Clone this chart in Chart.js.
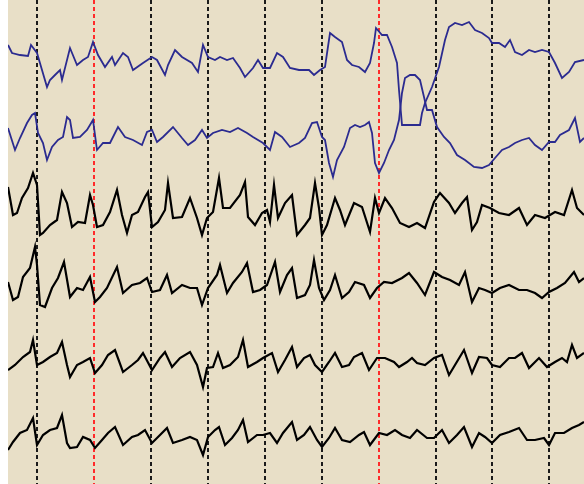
<!DOCTYPE html>
<html>
<head>
<meta charset="utf-8">
<script src="https://cdn.jsdelivr.net/npm/chart.js@4"></script>
<style>
html,body{margin:0;padding:0;background:#ffffff;}
#wrap{width:584px;height:484px;}
</style>
</head>
<body>
<div id="wrap"><canvas id="c" width="584" height="484"></canvas></div>
<script>
// sample index (time) -> amplitude (display units, top = 0)
const ch1 = [[8,45],[12,53],[20,55],[28,56],[31,45],[37,53],[42,70],[47,87],[50,80],[55,75],[60,70],[62,80],[70,48],[77,65],[83,60],[88,57],[93,42],[98,55],[105,67],[112,57],[115,65],[123,53],[128,57],[133,70],[143,63],[152,57],[157,60],[165,75],[168,65],[175,50],[182,57],[192,63],[198,72],[203,45],[208,57],[215,60],[220,57],[227,60],[233,58],[240,68],[245,77],[253,68],[258,60],[263,68],[270,68],[277,53],[283,57],[290,68],[299,70],[309,70],[314,75],[320,70],[325,67],[330,33],[335,37],[342,42],[347,60],[352,65],[359,67],[365,72],[370,63],[374,43],[376,28],[382,35],[387,35],[392,47],[397,63],[399,90],[402,125],[420,125],[422,113],[425,103],[432,87],[439,67],[445,40],[449,27],[455,23],[462,25],[469,22],[475,30],[482,33],[489,38],[492,43],[499,43],[505,47],[510,40],[515,52],[522,55],[529,50],[535,52],[542,50],[549,52],[555,63],[562,78],[569,72],[575,62],[584,60]];
const ch2 = [[8,128],[15,150],[20,138],[27,123],[32,115],[35,113],[38,133],[43,143],[47,160],[52,147],[58,140],[63,137],[67,117],[70,120],[73,138],[80,137],[87,130],[93,120],[97,150],[103,143],[110,143],[118,127],[125,137],[133,140],[142,145],[147,132],[152,130],[157,142],[163,137],[173,127],[182,138],[188,145],[195,140],[202,130],[207,138],[213,133],[222,130],[230,132],[238,128],[247,133],[253,137],[263,143],[270,150],[275,132],[282,137],[290,147],[299,143],[305,138],[312,123],[317,122],[322,137],[325,140],[329,163],[333,177],[337,160],[344,147],[350,128],[355,125],[360,127],[365,125],[369,122],[372,133],[375,163],[379,173],[384,163],[389,150],[394,140],[399,120],[402,93],[405,78],[410,75],[415,75],[420,80],[424,97],[427,110],[432,110],[437,127],[444,137],[450,143],[457,155],[465,160],[474,167],[482,168],[489,165],[495,158],[502,150],[509,147],[515,143],[522,140],[529,138],[535,145],[542,150],[549,142],[555,142],[560,135],[569,130],[575,118],[580,142],[584,138]];
const ch3 = [[8,187],[13,215],[17,213],[22,198],[28,188],[33,173],[37,185],[40,235],[43,233],[50,225],[57,220],[62,192],[67,203],[72,227],[78,222],[85,223],[90,195],[93,205],[97,227],[103,225],[110,212],[117,190],[122,215],[127,233],[132,215],[138,212],[145,197],[148,192],[152,227],[158,222],[165,210],[168,183],[173,218],[182,217],[190,198],[197,218],[202,235],[207,218],[213,212],[219,178],[223,208],[230,208],[240,195],[245,182],[248,217],[255,225],[262,213],[267,210],[270,222],[274,185],[278,218],[285,203],[292,195],[297,235],[305,225],[310,218],[315,183],[319,208],[322,235],[327,225],[335,198],[340,210],[345,225],[354,203],[362,207],[370,232],[375,198],[379,213],[385,198],[392,208],[400,223],[409,227],[417,223],[425,228],[434,202],[440,193],[449,203],[455,213],[462,203],[467,197],[472,230],[477,222],[482,205],[490,208],[499,213],[509,215],[519,208],[527,225],[535,215],[545,218],[555,212],[564,215],[572,190],[577,208],[584,215]];
const ch4 = [[8,282],[13,300],[18,297],[23,277],[30,268],[35,247],[37,265],[40,305],[45,307],[52,288],[58,278],[64,262],[70,297],[77,288],[83,290],[90,277],[95,302],[100,297],[107,288],[117,267],[123,293],[132,285],[140,283],[147,278],[152,292],[160,290],[167,275],[172,293],[182,285],[190,288],[197,288],[202,305],[208,288],[217,275],[220,265],[227,293],[233,283],[242,272],[247,263],[253,292],[260,290],[267,285],[275,262],[280,292],[287,275],[292,268],[297,298],[305,295],[310,285],[314,260],[319,288],[324,300],[330,290],[335,275],[342,298],[349,292],[355,282],[364,285],[370,298],[377,288],[384,282],[392,283],[402,278],[409,273],[417,283],[425,295],[434,272],[442,277],[450,280],[459,285],[465,272],[472,302],[479,288],[485,290],[492,293],[500,288],[509,285],[519,290],[527,290],[535,293],[542,298],[549,292],[557,288],[565,283],[574,272],[579,282],[584,278]];
const ch5 = [[8,370],[15,365],[23,357],[30,352],[33,340],[37,365],[43,362],[50,357],[57,353],[62,342],[67,365],[70,377],[77,365],[83,362],[90,358],[95,373],[102,365],[108,355],[115,350],[123,372],[132,365],[138,360],[143,353],[152,370],[160,358],[165,352],[172,367],[180,358],[190,352],[197,365],[203,387],[207,368],[213,367],[218,353],[223,368],[230,365],[238,357],[243,340],[248,367],[257,362],[263,358],[272,353],[278,372],[285,360],[292,347],[297,367],[304,358],[310,355],[315,365],[322,372],[329,362],[335,353],[342,367],[349,365],[354,357],[362,353],[369,370],[377,358],[385,358],[394,362],[399,367],[407,362],[412,358],[417,363],[425,365],[434,358],[442,355],[449,375],[455,365],[464,350],[472,373],[479,357],[487,358],[492,365],[500,367],[509,358],[515,358],[522,353],[529,368],[539,358],[547,367],[555,362],[562,358],[567,362],[572,345],[577,358],[584,353]];
const ch6 = [[8,450],[13,442],[20,433],[27,430],[33,418],[37,445],[43,435],[50,430],[57,428],[62,415],[67,443],[70,448],[77,447],[83,437],[90,440],[95,448],[102,440],[108,433],[115,427],[123,445],[132,437],[138,435],[145,430],[152,443],[160,435],[167,428],[173,443],[182,440],[190,437],[197,440],[203,455],[208,437],[215,430],[219,427],[225,445],[232,438],[238,430],[243,420],[248,442],[257,435],[263,435],[270,433],[277,443],[283,433],[292,422],[297,440],[304,435],[310,427],[317,440],[322,447],[329,438],[335,428],[342,440],[350,442],[359,435],[364,432],[370,445],[379,433],[387,435],[395,430],[402,435],[410,438],[417,430],[427,438],[434,438],[442,430],[449,443],[457,435],[464,427],[472,447],[479,433],[485,437],[492,443],[500,435],[509,432],[519,428],[527,440],[535,440],[544,438],[549,445],[555,433],[564,433],[572,428],[579,425],[584,422]];
// time markers (vertical dashed lines); marked ones drawn red
const markers = [37,94,151,208,265,322,379,436,492,549];
const redMarkers = [94,379];

const BLUE = '#2b2b90', BLACK = '#000000', BG = '#e8dfc7';
const toXY = arr => arr.map(p => ({x:p[0], y:p[1]}));
const mk = (d, color, w) => ({data: toXY(d), borderColor: color, borderWidth: w, pointRadius: 0, tension: 0, fill: false, borderJoinStyle: 'miter'});

const bgPlugin = {
  id: 'bg',
  beforeDraw(chart) {
    const {ctx, chartArea: a} = chart;
    ctx.save();
    ctx.fillStyle = BG;
    ctx.fillRect(a.left, a.top, a.right - a.left, a.bottom - a.top);
    ctx.restore();
  }
};

new Chart(document.getElementById('c'), {
  type: 'line',
  data: {
    datasets: [
      mk(ch1, BLUE, 1.8), mk(ch2, BLUE, 1.8),
      mk(ch3, BLACK, 2.2), mk(ch4, BLACK, 2.2),
      mk(ch5, BLACK, 2.2), mk(ch6, BLACK, 2.2)
    ]
  },
  options: {
    responsive: false,
    animation: false,
    devicePixelRatio: 1,
    layout: {padding: {left: 8, right: 0, top: 0, bottom: 0}},
    plugins: {legend: {display: false}, tooltip: {enabled: false}},
    scales: {
      x: {
        type: 'linear', min: 8, max: 584,
        afterBuildTicks: s => { s.ticks = markers.map(v => ({value: v})); },
        ticks: {display: false},
        grid: {
          drawTicks: false,
          lineWidth: 2,
          color: c => (c.tick && redMarkers.includes(c.tick.value)) ? '#ff2a2a' : '#1a1a1a'
        },
        border: {display: false, dash: [4, 3]}
      },
      y: {
        type: 'linear', min: 0, max: 484, reverse: true, display: false
      }
    }
  },
  plugins: [bgPlugin]
});
</script>
</body>
</html>
